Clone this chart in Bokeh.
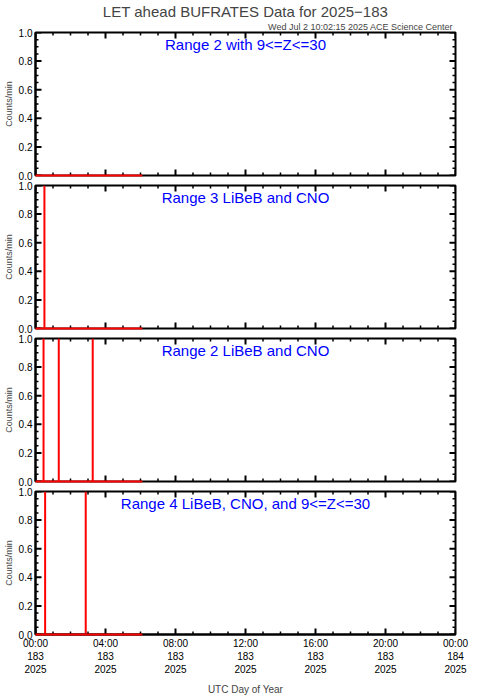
import math
from bokeh.plotting import figure
from bokeh.models import Range1d, FixedTicker, Title, Label
from bokeh.layouts import column
from bokeh.embed import file_html
from bokeh.resources import INLINE

FONT = "Liberation Sans"

main_title = "LET ahead BUFRATES Data for 2025\u2212183"
sub_title = "Wed Jul  2 10:02:15 2025 ACE Science Center"
panel_titles = [
    "Range 2 with 9<=Z<=30",
    "Range 3 LiBeB and CNO",
    "Range 2 LiBeB and CNO",
    "Range 4 LiBeB, CNO, and 9<=Z<=30",
]
# data coverage (hours of day 183)
data_start_hours = [0.0, 0.0, 0.0, 0.0]
data_end_hours = [6.1, 6.1, 6.1, 6.1]
baseline_counts = [0.0, 0.0, 0.0, 0.0]
# non-zero samples (hours, counts/min)
spike_hours = [[], [0.51], [0.46, 1.33, 3.27], [0.55, 2.87]]
spike_counts = [[], [1.0], [1.0, 1.0, 1.0], [1.0, 1.0]]

x_tick_hours = [0, 4, 8, 12, 16, 20, 24]
x_minor_hours = [h for h in range(0, 25) if h % 4 != 0]
x_tick_labels = ["00:00\n183\n2025", "04:00\n183\n2025", "08:00\n183\n2025",
                 "12:00\n183\n2025", "16:00\n183\n2025", "20:00\n183\n2025",
                 "00:00\n184\n2025"]
y_ticks = [0.0, 0.2, 0.4, 0.6, 0.8, 1.0]
y_minor = [round(i * 0.05, 2) for i in range(21) if i % 4 != 0]
y_tick_labels = ["0.0", "0.2", "0.4", "0.6", "0.8", "1.0"]

FRAME_W = 420
FRAME_H = 143
MAJOR_LEN = 6
MINOR_LEN = 3


def style_axis(ax):
    ax.axis_line_color = "black"
    ax.axis_line_width = 2
    ax.major_tick_in = 0
    ax.major_tick_out = 0
    ax.minor_tick_in = 0
    ax.minor_tick_out = 0
    ax.major_tick_line_color = None
    ax.minor_tick_line_color = None
    ax.major_label_text_font = FONT
    ax.major_label_text_color = "black"
    ax.major_label_text_font_size = "10px"
    ax.major_label_standoff = 3


def inward_ticks(p, xr, yr):
    # y ticks on left and right, x ticks on bottom and top, pointing into the frame
    for ticks, ln, w in ((y_ticks, MAJOR_LEN, 2), (y_minor, MINOR_LEN, 1.5)):
        p.ray(x=[xr[0]] * len(ticks), y=ticks, length=ln, angle=0,
              length_units="screen", line_color="black", line_width=w)
        p.ray(x=[xr[1]] * len(ticks), y=ticks, length=ln, angle=math.pi,
              length_units="screen", line_color="black", line_width=w)
    for ticks, ln, w in ((x_tick_hours, MAJOR_LEN, 2), (x_minor_hours, MINOR_LEN, 1.5)):
        p.ray(x=ticks, y=[yr[0]] * len(ticks), length=ln, angle=math.pi / 2,
              length_units="screen", line_color="black", line_width=w)
        p.ray(x=ticks, y=[yr[1]] * len(ticks), length=ln, angle=-math.pi / 2,
              length_units="screen", line_color="black", line_width=w)


figs = []
for i in range(4):
    last = i == 3
    xr = (0, 24)
    yr = (0, 1)
    p = figure(frame_width=FRAME_W, frame_height=FRAME_H,
               x_range=Range1d(*xr), y_range=Range1d(*yr),
               output_backend="svg", toolbar_location=None,
               min_border_left=27, min_border_right=16,
               min_border_top=5 if i > 0 else 0,
               min_border_bottom=5 if not last else 0,
               background_fill_color="white", border_fill_color="white")
    p.grid.visible = False
    p.outline_line_color = "black"
    p.outline_line_width = 2

    xa = p.xaxis[0]
    xa.ticker = FixedTicker(ticks=x_tick_hours)
    style_axis(xa)
    if last:
        xa.major_label_overrides = {t: lab for t, lab in zip(x_tick_hours, x_tick_labels)}
        xa.axis_label = "UTC Day of Year"
        xa.axis_label_text_font = FONT
        xa.axis_label_text_font_size = "10px"
        xa.axis_label_text_font_style = "normal"
        xa.axis_label_standoff = 6
    else:
        xa.visible = False

    ya = p.yaxis[0]
    ya.ticker = FixedTicker(ticks=y_ticks)
    style_axis(ya)
    ya.major_label_overrides = {t: lab for t, lab in zip(y_ticks, y_tick_labels)}
    ya.axis_label = "Counts/min"
    ya.axis_label_text_font = FONT
    ya.axis_label_text_font_size = "9px"
    ya.axis_label_text_font_style = "normal"
    ya.axis_label_standoff = 2

    if i == 0:
        p.add_layout(Title(text=sub_title, align="right", text_font=FONT,
                           text_font_size="9px", text_font_style="normal",
                           standoff=1, offset=0), "above")
        p.add_layout(Title(text=main_title, align="center", text_font=FONT,
                           text_font_size="15px", text_font_style="normal",
                           standoff=0, offset=0), "above")

    inward_ticks(p, xr, yr)

    p.line([data_start_hours[i], data_end_hours[i]], [baseline_counts[i], baseline_counts[i]],
           line_color="red", line_width=2, level="overlay")
    if spike_hours[i]:
        p.segment(x0=spike_hours[i], x1=spike_hours[i],
                  y0=[baseline_counts[i]] * len(spike_hours[i]), y1=spike_counts[i],
                  line_color="red", line_width=2)

    p.add_layout(Label(x=12, y=1, y_offset=-3, text=panel_titles[i],
                       text_align="center", text_baseline="top",
                       text_color="blue", text_font=FONT, text_font_size="15px"))
    figs.append(p)

layout = column(*figs, spacing=0)
open("out.html", "w").write(file_html(layout, INLINE))
